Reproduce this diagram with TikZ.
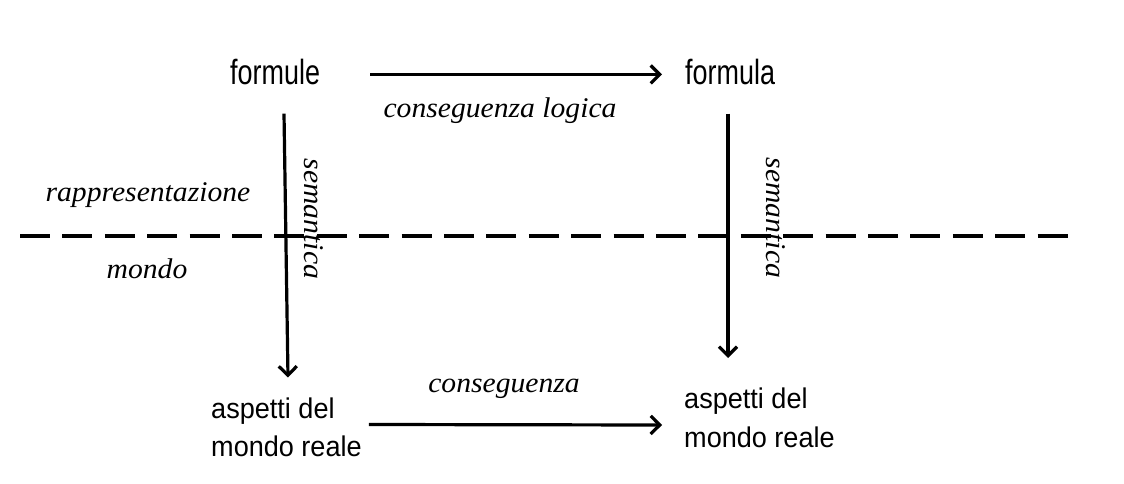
\documentclass[tikz,border=0pt]{standalone}
\usepackage{fontspec}
\setmainfont{Liberation Serif}
\newfontfamily\arialf[FakeStretch=0.77]{Liberation Sans}
\newfontfamily\arialm[FakeStretch=0.95]{Liberation Sans}
\newfontfamily\timesw[FakeStretch=1.04]{Liberation Serif}
\usetikzlibrary{arrows.meta,calc}
\tikzset{
  bigsans/.style={font={\arialf\fontsize{35}{40}\selectfont}, inner sep=0pt},
  sans/.style={font={\arialm\fontsize{28.5}{38.5}\selectfont}, inner sep=0pt, align=left},
  ital/.style={font={\timesw\fontsize{28.5}{32}\selectfont\itshape}, inner sep=0pt},
  arr/.style={line width=3.2pt, -{Straight Barb[length=9pt,width=18pt,line width=3.2pt]}},
  divider/.style={line width=4.2pt, dash pattern=on 30pt off 12.4pt}
}
\begin{document}
\begin{tikzpicture}[x=1pt,y=-1pt]
\fill[white] (0,0) rectangle (1124,484);
\useasboundingbox (0,0) rectangle (1124,484);
% nodes
\node[bigsans, anchor=base west] (formule) at (230,85) {formule};
\node[bigsans, anchor=base west] (formula) at (685,85) {formula};
\node[sans, anchor=north west] (aspL) at (211,397.5) {aspetti del\\mondo reale};
\node[sans, anchor=north west] (aspR) at (684,388) {aspetti del\\mondo reale};
\node[ital, anchor=base] (conslog) at (500,118) {conseguenza logica};
\node[ital, anchor=base] (cons) at (504,392) {conseguenza};
\node[ital, anchor=base] (rapp) at (148,201) {rappresentazione};
\node[ital, anchor=base] (mondo) at (147,278) {mondo};
\node[ital, rotate=-90] (semL) at (314,219) {semantica};
\node[ital, rotate=-90] (semR) at (776,218) {semantica};
% divider
\coordinate (dl) at (20,236);
\coordinate (dr) at (1068,236);
\draw[divider] (dl) -- (dr);
% arrows
\draw[arr] ($(formule.east)+(50,2)$) -- ($(formula.west)+(-23,2)$);
\draw[arr] ($(aspL.north east)+(7,27)$) -- ($(aspR.north west)+(-22,37)$);
\draw[arr] ($(formule.south west)+(54,28)$) -- ($(aspL.north west)+(77,-20)$);
\draw[arr] ($(formula.south west)+(43,28)$) -- ($(aspR.north west)+(44,-30)$);
\end{tikzpicture}
\end{document}
